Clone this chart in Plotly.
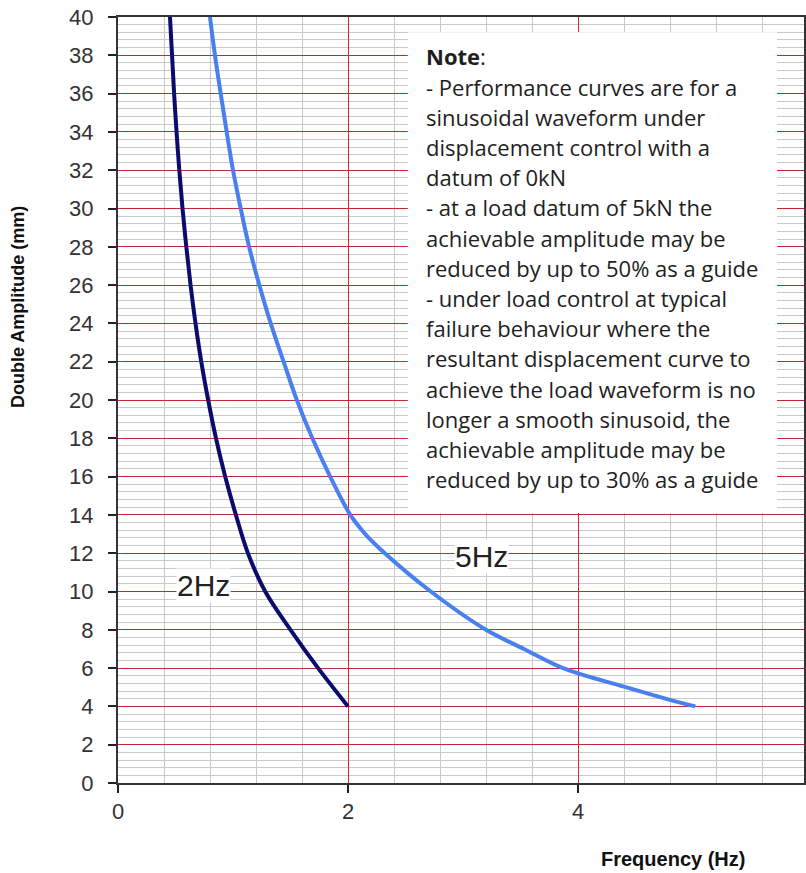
import plotly.graph_objects as go

# ---- data ----
freq_2hz = [0.452, 0.470, 0.488, 0.509, 0.533, 0.561, 0.594, 0.631, 0.674, 0.724,
            0.784, 0.852, 0.932, 1.025, 1.13, 1.28, 1.50, 1.74, 2.0]
amp_2hz = [40, 38, 36, 34, 32, 30, 28, 26, 24, 22, 20, 18, 16, 14, 12, 10, 8, 6, 4]

freq_5hz = [0.80, 0.843, 0.893, 0.945, 1.0, 1.067, 1.14, 1.229, 1.328, 1.44,
            1.555, 1.69, 1.845, 2.02, 2.15, 2.32, 2.72, 3.2, 3.53, 3.87, 4.4, 4.8, 5.02]
amp_5hz = [40, 38, 36, 34, 32, 30, 28, 26, 24, 22, 20, 18, 16, 14, 13, 12, 10, 8, 7, 6,
           5.03, 4.34, 4.0]

x_ticks = [0, 2, 4]
y_ticks = list(range(0, 41, 2))

series_labels = ["2Hz", "5Hz"]

note_lines = [
    "<b>Note</b>:",
    "- Performance curves are for a",
    "sinusoidal waveform under",
    "displacement control with a",
    "datum of 0kN",
    "- at a load datum of 5kN the",
    "achievable amplitude may be",
    "reduced by up to 50% as a guide",
    "- under load control at typical",
    "failure behaviour where the",
    "resultant displacement curve to",
    "achieve the load waveform is no",
    "longer a smooth sinusoid, the",
    "achievable amplitude may be",
    "reduced by up to 30% as a guide",
]

# page layout (body margin removed by post_script)
W, H = 806, 873
PL, PT, PR, PB = 118, 17, 804, 783          # plot area edges on the page
ml, mt = PL, PT
mr, mb = W - PR, H - PB
pw, ph = PR - PL, PB - PT


def px_to_paper(px, py):
    return (px - PL) / pw, (PB - py) / ph


fig = go.Figure()
fig.add_trace(go.Scatter(x=freq_2hz, y=amp_2hz, mode="lines", name="2Hz",
                         line=dict(color="#0b0b6e", width=4, shape="spline", smoothing=1),
                         showlegend=False))
fig.add_trace(go.Scatter(x=freq_5hz, y=amp_5hz, mode="lines", name="5Hz",
                         line=dict(color="#4a7ff0", width=4, shape="spline", smoothing=1),
                         showlegend=False))

# note box
fig.add_shape(type="rect", xref="x", yref="y", x0=2.52, x1=5.73, y0=14.1, y1=39.2,
              fillcolor="white", line=dict(width=0), layer="above")

note_top = 37.94
note_step = 1.577
for i, t in enumerate(note_lines):
    fig.add_annotation(x=2.661, y=note_top - i * note_step, xref="x", yref="y",
                       text=t, showarrow=False, xanchor="left", yanchor="middle",
                       font=dict(family="Open Sans", size=22, color="#1e1e1e"))

# curve labels
fig.add_annotation(x=0.74, y=10.3, text=series_labels[0], showarrow=False,
                   font=dict(family="Arial, Liberation Sans", size=30, color="#222"),
                   bgcolor="white", borderpad=0)
fig.add_annotation(x=3.157, y=11.81, text=series_labels[1], showarrow=False,
                   font=dict(family="Arial, Liberation Sans", size=30, color="#222"),
                   bgcolor="white", borderpad=0)

# axis titles
ax, ay = px_to_paper(18, 307)
fig.add_annotation(x=ax, y=ay, xref="paper", yref="paper", text="<b>Double Amplitude (mm)</b>",
                   showarrow=False, textangle=-90, xanchor="center", yanchor="middle",
                   font=dict(family="Arial, Liberation Sans", size=18, color="#111"))
bx, by = px_to_paper(673, 859)
fig.add_annotation(x=bx, y=by, xref="paper", yref="paper", text="<b>Frequency (Hz)</b>",
                   showarrow=False, xanchor="center", yanchor="middle",
                   font=dict(family="Arial, Liberation Sans", size=20, color="#111"))

x_minor = [round(0.4 * k, 1) for k in range(0, 16) if k % 5 != 0]
y_minor = [round(0.4 * k, 1) for k in range(0, 101) if k % 5 != 0]

fig.update_xaxes(range=[0, 5.965], tickvals=x_ticks, ticktext=[str(v) for v in x_ticks],
                 showgrid=True, gridcolor="#d42a2a", gridwidth=1,
                 minor=dict(tickvals=x_minor, showgrid=True, gridcolor="#c9c9c9", gridwidth=1),
                 ticks="outside", ticklen=8, tickcolor="#222", tickwidth=1.5,
                 showline=True, linecolor="#333", linewidth=2, mirror=True,
                 zeroline=False, ticklabelstandoff=0, ticklabeloverflow="allow",
                 tickfont=dict(family="Arial, Liberation Sans", size=22, color="#333"))
fig.update_yaxes(range=[0, 40], tickvals=y_ticks, ticktext=[str(v) for v in y_ticks],
                 showgrid=True, gridcolor="#c02838", gridwidth=1,
                 minor=dict(tickvals=y_minor, showgrid=True, gridcolor="#c9c9c9", gridwidth=1),
                 ticks="outside", ticklen=8, tickcolor="#222", tickwidth=1.5,
                 showline=True, linecolor="#333", linewidth=2, mirror=True,
                 zeroline=False, ticklabelstandoff=10, ticklabeloverflow="allow",
                 tickfont=dict(family="Arial, Liberation Sans", size=22, color="#333"))

fig.update_layout(width=W, height=H, margin=dict(l=ml, r=mr, t=mt, b=mb, autoexpand=False),
                  plot_bgcolor="white", paper_bgcolor="white")

fig.write_html("out.html", config={"displayModeBar": False},
               post_script="document.body.style.margin='0';document.body.style.padding='0';")
